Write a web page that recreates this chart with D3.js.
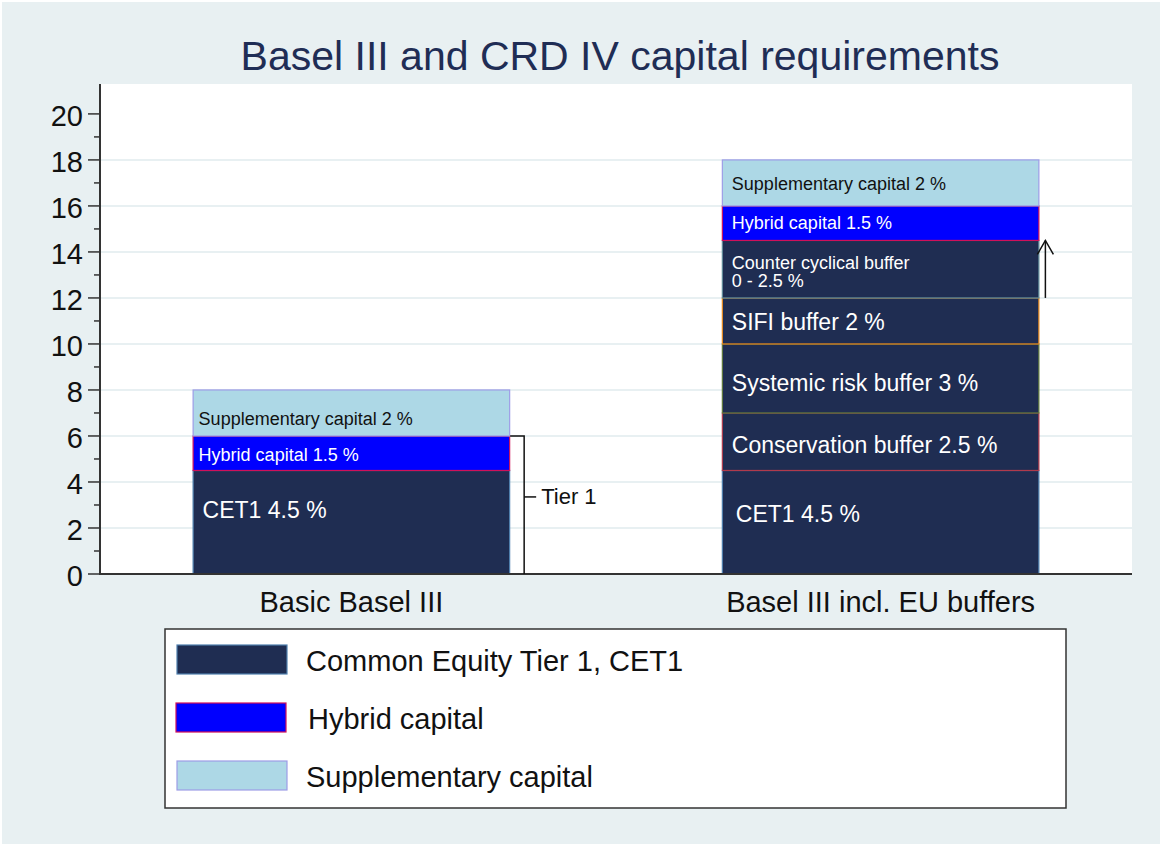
<!DOCTYPE html>
<html>
<head>
<meta charset="utf-8">
<script src="https://cdn.jsdelivr.net/npm/d3@7"></script>
<style>
  body { margin: 0; background: #ffffff; }
  svg { display: block; font-family: "Liberation Sans", Arial, sans-serif; }
</style>
</head>
<body>
<svg id="chart" width="1162" height="846"></svg>
<script>
// ---- data ----
const categories = ["Basic Basel III", "Basel III incl. EU buffers"];
const components = ["CET1", "Conservation buffer", "Systemic risk buffer", "SIFI buffer",
  "Counter cyclical buffer", "Hybrid capital", "Supplementary capital"];
const basicValues = [4.5, 0, 0, 0, 0, 1.5, 2];
const euValues = [4.5, 2.5, 3, 2, 2.5, 1.5, 2];
const basicLabels = ["CET1 4.5 %", "", "", "", "", "Hybrid capital 1.5 %", "Supplementary capital 2 %"];
const euLabels = ["CET1 4.5 %", "Conservation buffer 2.5 %", "Systemic risk buffer 3 %", "SIFI buffer 2 %",
  "Counter cyclical buffer\n0 - 2.5 %", "Hybrid capital 1.5 %", "Supplementary capital 2 %"];
const yTicks = [0, 2, 4, 6, 8, 10, 12, 14, 16, 18, 20];
const legendLabels = ["Common Equity Tier 1, CET1", "Hybrid capital", "Supplementary capital"];
const legendKeys = ["CET1", "Hybrid capital", "Supplementary capital"];
const tierRange = [0, 6];     // Tier 1 bracket on the basic bar
const counterRange = [12, 14.5]; // arrow for the counter cyclical buffer
const title = "Basel III and CRD IV capital requirements";

// ---- styling ----
const fills = {
  "CET1": "#1f2d52", "Conservation buffer": "#1f2d52", "Systemic risk buffer": "#1f2d52",
  "SIFI buffer": "#1f2d52", "Counter cyclical buffer": "#1f2d52",
  "Hybrid capital": "#0000ff", "Supplementary capital": "#add8e6"
};
const strokes = {
  "CET1": "#4f7fae", "Conservation buffer": "#b03a4c", "Systemic risk buffer": "#607a3c",
  "SIFI buffer": "#e8891e", "Counter cyclical buffer": "#5f8a98",
  "Hybrid capital": "#d0105a", "Supplementary capital": "#9d9de6"
};
const labelSize = {
  "CET1": 23, "Conservation buffer": 23, "Systemic risk buffer": 23, "SIFI buffer": 23,
  "Counter cyclical buffer": 18, "Hybrid capital": 18, "Supplementary capital": 18
};
const labelColor = k => k === "Supplementary capital" ? "#111" : "#fff";
// small vertical nudges so labels sit where they do in the original
const nudge = [
  { "CET1": -12, "Hybrid capital": 1.5, "Supplementary capital": 5.5 },
  { "CET1": -8, "Conservation buffer": 3, "Systemic risk buffer": 4.5, "SIFI buffer": 1,
    "Counter cyclical buffer": 2.5, "Hybrid capital": -0.5, "Supplementary capital": 0.7 }
];

const svg = d3.select("#chart");
const W = 1162, H = 846;
const plot = { left: 100, right: 1132, top: 84, bottom: 574 };

svg.append("rect").attr("x", 2).attr("y", 2).attr("width", W - 4).attr("height", H - 4)
  .attr("fill", "#e8f0f2");
svg.append("rect").attr("x", plot.left).attr("y", plot.top)
  .attr("width", plot.right - plot.left).attr("height", plot.bottom - plot.top)
  .attr("fill", "#fff");

const x = d3.scaleBand().domain(categories).range([plot.left, plot.right])
  .paddingInner(0.4).paddingOuter(0.175);
const y = d3.scaleLinear().domain([0, 21.3]).range([plot.bottom, plot.top]);

// gridlines
svg.append("g").selectAll("line").data(yTicks.filter(t => t > 0 && t < 20)).join("line")
  .attr("x1", plot.left).attr("x2", plot.right)
  .attr("y1", d => y(d)).attr("y2", d => y(d))
  .attr("stroke", "#e8f0f2").attr("stroke-width", 2);

// stacked bars
const rows = [basicValues, euValues].map((vals, i) => {
  const r = { category: categories[i] };
  components.forEach((c, j) => r[c] = vals[j]);
  return r;
});
const series = d3.stack().keys(components)(rows);
const labelsByBar = [basicLabels, euLabels];

const barG = svg.append("g");
series.forEach(s => {
  barG.selectAll(null).data(s.filter(d => d[1] > d[0])).join("rect")
    .attr("x", d => x(d.data.category) + 0.5)
    .attr("y", d => y(d[1]))
    .attr("width", x.bandwidth() - 1)
    .attr("height", d => y(d[0]) - y(d[1]))
    .attr("fill", fills[s.key])
    .attr("stroke", strokes[s.key])
    .attr("stroke-width", 1.2);
});

// labels inside segments
series.forEach((s, j) => {
  s.forEach((d, i) => {
    const txt = labelsByBar[i][j];
    if (!txt) return;
    const fs = labelSize[s.key];
    const lines = txt.split("\n");
    const mid = y((d[0] + d[1]) / 2);
    const x0 = x(d.data.category) + (i === 0 ? 6 : 10) + (s.key === "CET1" ? 4 : 0);
    const lh = fs;
    const first = mid + 0.35 * fs - (lines.length - 1) * lh / 2 + (nudge[i][s.key] || 0);
    const t = svg.append("text").attr("x", x0).attr("y", first)
      .attr("font-size", fs).attr("fill", labelColor(s.key));
    lines.forEach((ln, k) => {
      t.append("tspan").attr("x", x0).attr("y", first + k * lh).text(ln);
    });
  });
});

// axes
const axisColor = "#333";
svg.append("line").attr("x1", plot.left).attr("x2", plot.left)
  .attr("y1", plot.top).attr("y2", plot.bottom + 1)
  .attr("stroke", axisColor).attr("stroke-width", 2);
svg.append("line").attr("x1", plot.left - 1).attr("x2", plot.right)
  .attr("y1", plot.bottom).attr("y2", plot.bottom)
  .attr("stroke", axisColor).attr("stroke-width", 2);
const yAxis = svg.append("g");
yAxis.selectAll("line.major").data(yTicks).join("line")
  .attr("x1", plot.left - 12).attr("x2", plot.left)
  .attr("y1", d => y(d)).attr("y2", d => y(d))
  .attr("stroke", axisColor).attr("stroke-width", 1.5);
yAxis.selectAll("line.minor").data(yTicks.slice(1).map(t => t - 1)).join("line")
  .attr("x1", plot.left - 6).attr("x2", plot.left)
  .attr("y1", d => y(d)).attr("y2", d => y(d))
  .attr("stroke", axisColor).attr("stroke-width", 1.5);
yAxis.selectAll("text").data(yTicks).join("text")
  .attr("x", plot.left - 17).attr("y", d => y(d)).attr("dy", "0.4em")
  .attr("text-anchor", "end").attr("font-size", 29).attr("fill", "#111")
  .text(d => d);

svg.append("g").selectAll("text").data(categories).join("text")
  .attr("x", d => x(d) + x.bandwidth() / 2).attr("y", 612)
  .attr("text-anchor", "middle").attr("font-size", 29).attr("fill", "#111")
  .text(d => d);

// title
svg.append("text").attr("x", 620).attr("y", 70).attr("text-anchor", "middle")
  .attr("font-size", 41).attr("fill", "#1f2d55").text(title);

// Tier 1 bracket
const bx = x(categories[0]) + x.bandwidth() + 14;
svg.append("path")
  .attr("d", `M${x(categories[0]) + x.bandwidth()},${y(tierRange[1])}H${bx}V${y(tierRange[0])}`)
  .attr("fill", "none").attr("stroke", "#111").attr("stroke-width", 1.5);
const tierMid = y(3.35);
svg.append("line").attr("x1", bx).attr("x2", bx + 12).attr("y1", tierMid).attr("y2", tierMid)
  .attr("stroke", "#111").attr("stroke-width", 1.5);
svg.append("text").attr("x", bx + 17).attr("y", tierMid + 7.5)
  .attr("font-size", 22).attr("fill", "#111").text("Tier 1");

// counter cyclical arrow
const ax = x(categories[1]) + x.bandwidth() + 6;
svg.append("line").attr("x1", ax).attr("x2", ax)
  .attr("y1", y(counterRange[0])).attr("y2", y(counterRange[1]))
  .attr("stroke", "#111").attr("stroke-width", 1.5);
svg.append("path")
  .attr("d", `M${ax - 8},${y(counterRange[1]) + 14}L${ax},${y(counterRange[1])}L${ax + 8},${y(counterRange[1]) + 14}`)
  .attr("fill", "none").attr("stroke", "#111").attr("stroke-width", 1.5);

// legend
const lg = svg.append("g");
lg.append("rect").attr("x", 165).attr("y", 629).attr("width", 901).attr("height", 179)
  .attr("fill", "#fff").attr("stroke", "#333").attr("stroke-width", 1.5);
const legendY = d3.scalePoint().domain(legendKeys).range([660, 776]);
legendKeys.forEach((k, i) => {
  const sx = k === "Hybrid capital" ? 176 : 177;
  lg.append("rect").attr("x", sx).attr("y", legendY(k) - 15).attr("width", 110).attr("height", 29)
    .attr("fill", fills[k]).attr("stroke", strokes[k]).attr("stroke-width", 1.2);
  lg.append("text").attr("x", k === "Hybrid capital" ? 308 : 306).attr("y", legendY(k) + 11)
    .attr("font-size", 29).attr("fill", "#111").text(legendLabels[i]);
});
</script>
</body>
</html>
